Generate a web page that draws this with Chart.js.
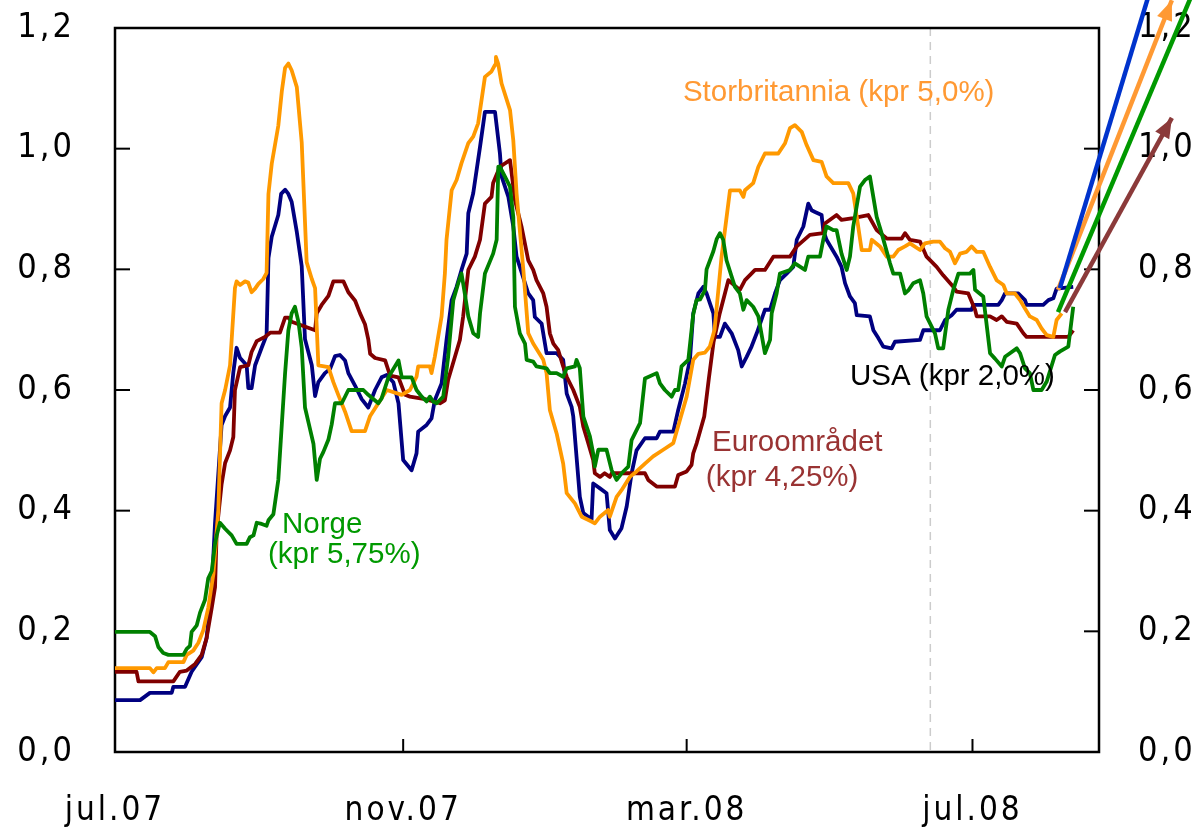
<!DOCTYPE html>
<html lang="no">
<head>
<meta charset="UTF-8">
<title>Pengemarkedspremier</title>
<script src="https://cdn.jsdelivr.net/npm/chart.js"></script>
<style>
  body { margin: 0; background: #ffffff; }
  .wrap { width: 1193px; height: 833px; position: relative; }
</style>
</head>
<body>
<div class="wrap"><canvas id="chart"></canvas></div>
<script>
// x = days since 1 Jul 2007, y = percentage points
const xTickDays = [0, 123, 244, 366];
const xTickLabels = ['jul.07', 'nov.07', 'mar.08', 'jul.08'];
const cutoffDay = 348;

const usa = [
  [0,.086],[10.7,.086],[14.9,.098],[24.2,.098],[24.9,.108],[29.9,.108],[32.7,.133],[37,.157],[39.1,.189],
  [41.3,.273],[42.7,.38],[45.5,.542],[47,.557],[49.1,.571],[50.5,.629],[51.9,.67],[53.4,.653],[56.2,.641],
  [56.9,.603],[58.3,.603],[59.8,.641],[62.6,.67],[64.7,.691],[65.5,.819],[66.9,.854],[69.7,.89],[70.9,.925],
  [72.6,.932],[74,.925],[75.4,.912],[77.6,.862],[79.7,.805],[81.1,.684],[84,.641],[85.4,.59],[86.8,.613],
  [89.6,.628],[91.8,.635],[93.9,.656],[96,.658],[98.2,.649],[99.6,.628],[102.5,.607],[105.3,.585],[108.1,.571],
  [111,.6],[113.8,.621],[116,.625],[118.8,.613],[121,.578],[123,.484],[126.6,.467],[128.7,.495],[129.4,.531],
  [133,.542],[135.1,.553],[136.5,.583],[139.4,.611],[141.5,.683],[143.7,.749],[145.8,.771],[147.9,.799],
  [150.1,.826],[150.8,.893],[152.9,.926],[155.8,1.003],[157.9,1.061],[162.2,1.061],[164.3,.992],[165,.954],
  [167.9,.92],[170,.871],[171.4,.821],[172.8,.804],[176.4,.76],[178.5,.749],[179.2,.721],[182.1,.71],
  [184.2,.661],[188.5,.661],[191.3,.65],[192.8,.594],[194.9,.572],[195.6,.556],[197,.489],[198.4,.423],
  [199.9,.396],[202,.39],[203.4,.385],[204.1,.445],[207,.437],[209.8,.429],[211.2,.368],[213.4,.354],
  [216.2,.371],[218.4,.407],[220.5,.462],[222.6,.5],[226.2,.52],[231.2,.52],[232.6,.531],[238.3,.531],
  [240.4,.567],[243.3,.611],[245.4,.65],[246.8,.727],[249,.76],[251.1,.771],[252.5,.76],[253.9,.744],
  [255.4,.727],[256.1,.688],[258.2,.688],[260.3,.71],[263.2,.694],[266,.666],[267.5,.639],[269.6,.655],
  [271.7,.672],[273.9,.694],[277.4,.733],[279.6,.733],[281.7,.76],[283.8,.782],[286.7,.793],[289.5,.804],
  [291,.849],[293.8,.871],[295.9,.909],[297.3,.898],[298.8,.895],[301.6,.89],[302.3,.865],[303.7,.849],
  [308,.821],[310.1,.804],[311.6,.777],[313.7,.755],[315.8,.744],[316.6,.724],[322.2,.722],[323.7,.699],
  [325.8,.686],[327.9,.672],[331.5,.669],[332.9,.68],[343.6,.683],[345,.699],[352.1,.699],[354.3,.716],
  [357.1,.724],[359.2,.733],[365.6,.733],[366.4,.741],[377,.741],[378.5,.749],[379.9,.76],[385.6,.76],
  [388.4,.749],[389.1,.741],[396.2,.741],[398.4,.749],[400.5,.752],[401.9,.768],[409,.771]
];

const euro = [
  [0,.133],[9.2,.133],[10,.117],[24.9,.117],[27.7,.133],[30.6,.135],[34.2,.146],[37,.161],[39.1,.189],
  [41.3,.239],[42.7,.273],[43.4,.366],[45.5,.444],[47,.479],[49.1,.5],[50.5,.522],[51.2,.6],[53.4,.638],
  [56.9,.641],[58.3,.663],[60.5,.681],[64,.688],[66.2,.695],[70.4,.695],[72.6,.72],[74,.72],[75.4,.713],
  [85.4,.699],[86.1,.727],[88.2,.741],[91.1,.756],[93.2,.78],[97.5,.78],[99.6,.762],[102.5,.748],[104.6,.727],
  [106.7,.709],[108.1,.684],[108.9,.66],[111,.653],[115.3,.649],[117.4,.624],[121,.621],[123.8,.592],
  [125.9,.589],[132.3,.585],[138.7,.578],[140.8,.583],[142.2,.617],[145.1,.655],[147.2,.683],[148.6,.722],
  [150.8,.799],[153.6,.821],[155.8,.849],[157.9,.909],[160.7,.92],[161.4,.943],[164.3,.97],[168.6,.981],
  [170.7,.915],[173.5,.871],[176.4,.815],[178.5,.799],[179.9,.782],[182.8,.76],[184.2,.738],[185.6,.694],
  [187.1,.677],[189.2,.666],[191.3,.639],[192.8,.622],[195.6,.6],[198.4,.572],[199.9,.539],[202,.512],
  [204.1,.484],[204.8,.462],[207,.456],[209,.462],[211.2,.456],[212,.462],[226.2,.462],[227.6,.451],
  [231.2,.44],[239,.44],[240.4,.459],[244,.465],[246.1,.476],[246.8,.495],[248.3,.512],[251.5,.556],
  [253.5,.62],[255.5,.68],[258,.725],[261.8,.782],[266.7,.766],[268.9,.782],[273.2,.799],[277.4,.799],
  [281,.821],[288.1,.821],[291,.838],[296.6,.857],[302.3,.86],[303,.876],[308,.89],[310.1,.882],[315.1,.885],
  [321.5,.89],[325.1,.865],[329.4,.851],[335.8,.851],[337.2,.86],[339.3,.849],[343.6,.846],[346.4,.821],
  [350.7,.804],[353.5,.79],[357.8,.771],[359.2,.763],[364.2,.76],[367.1,.733],[367.8,.722],[373.5,.722],
  [376.3,.716],[378.5,.722],[380.6,.713],[384.9,.71],[387.7,.694],[389.1,.688],[406.9,.688],[409,.699]
];

const uk = [
  [0,.139],[14.9,.139],[16.4,.132],[17.8,.139],[21.3,.139],[22.8,.149],[29.2,.149],[30.6,.161],[33.4,.168],
  [35.6,.181],[37.7,.202],[39.8,.239],[42,.295],[44.1,.401],[45.5,.578],[47,.6],[49.1,.641],[51.2,.769],
  [51.9,.78],[53.4,.774],[55.5,.78],[56.9,.778],[58.3,.762],[59.8,.768],[61.2,.776],[63.3,.784],[64.7,.794],
  [65.5,.925],[66.9,.975],[69.7,1.038],[71.2,1.095],[72.6,1.134],[74,1.141],[75.4,1.13],[77.6,1.102],
  [79.7,1.01],[81.8,.812],[84,.784],[85.4,.769],[86.8,.641],[91.1,.638],[93.2,.613],[95.3,.592],[98.2,.564],
  [101,.532],[106.7,.532],[108.9,.557],[112.4,.578],[116,.6],[122.4,.592],[125.9,.6],[128.7,.622],[129.4,.639],
  [134.4,.639],[135.1,.628],[136.5,.655],[139.4,.722],[140.8,.793],[141.5,.849],[143.7,.931],[145.8,.948],
  [147.9,.976],[150.8,1.009],[152.9,1.02],[155,1.042],[157.9,1.119],[160.7,1.128],[162.2,1.139],[162.6,1.152],
  [163.6,1.14],[165,1.108],[168.6,1.064],[170,1.014],[171.4,.926],[174.3,.799],[176.4,.694],[178.5,.677],
  [182.8,.65],[184.2,.628],[185.6,.567],[188.5,.528],[191.3,.478],[192.8,.429],[196.3,.412],[199.2,.39],
  [203.4,.382],[204.8,.379],[207,.39],[210.5,.401],[211.2,.39],[214.1,.423],[216.2,.434],[219.8,.456],
  [222.6,.465],[226.2,.478],[229.7,.49],[234,.501],[238.3,.512],[241.1,.55],[244,.589],[246.8,.65],[249,.66],
  [251.8,.662],[253.9,.672],[255.9,.7],[258.9,.821],[262.5,.931],[266.7,.931],[268.2,.92],[268.9,.931],
  [272.4,.943],[274.6,.97],[277.4,.992],[283.1,.992],[286,1.009],[288.1,1.034],[290.2,1.039],[293.1,1.028],
  [295.2,1.006],[298.1,.981],[301.6,.978],[303.7,.954],[306.6,.943],[313,.943],[315.1,.926],[316.6,.887],
  [318.7,.832],[322.2,.832],[323,.849],[326.5,.838],[329.4,.821],[332.2,.821],[334.3,.832],[337.2,.838],
  [339.3,.843],[343.6,.832],[345.7,.843],[349.3,.846],[352.1,.846],[354.3,.835],[356.4,.829],[358.5,.81],
  [360.7,.826],[363.5,.829],[365.6,.838],[367.8,.829],[370.6,.829],[373.5,.804],[376.3,.782],[379.2,.774],
  [380.6,.76],[384.1,.76],[386.3,.749],[388.4,.735],[390.5,.722],[393.4,.716],[395.5,.702],[397.7,.691],
  [400.5,.688],[401.9,.716],[404.1,.727]
];

const norge = [
  [0,.199],[14.9,.199],[17.1,.192],[18.5,.174],[20.6,.164],[22.8,.161],[29.2,.161],[30.6,.171],[32,.176],
  [32.7,.199],[34.9,.21],[36.3,.231],[38.4,.252],[39.8,.288],[41.3,.3],[42.7,.345],[43.4,.359],[44.8,.38],
  [47,.37],[49.8,.359],[51.9,.345],[56.2,.345],[57.6,.356],[59.1,.359],[60.5,.38],[62.6,.378],[64.7,.375],
  [65.5,.384],[67.6,.394],[69.7,.451],[71.2,.543],[72.6,.628],[74,.699],[75.4,.727],[76.8,.738],[78.3,.713],
  [79.7,.67],[81.1,.571],[83.2,.536],[84.7,.511],[86.1,.451],[87.5,.486],[88.9,.497],[91.1,.518],[92.5,.543],
  [93.9,.578],[96.8,.578],[99.6,.6],[106,.6],[108.1,.592],[112.4,.578],[113.8,.586],[116.7,.621],[121,.649],
  [122.4,.621],[126.6,.621],[128.7,.6],[130.9,.589],[133,.581],[134.4,.589],[135.8,.581],[137.3,.578],
  [140.1,.589],[142.2,.655],[144.4,.749],[146.5,.777],[147.9,.793],[149.3,.76],[150.8,.722],[152.9,.694],
  [155,.688],[155.8,.727],[157.9,.793],[161.4,.826],[162.9,.849],[163.6,.97],[164.3,.97],[166.4,.954],
  [168.6,.937],[170,.887],[170.7,.738],[172.8,.694],[175,.677],[175.7,.65],[178.5,.647],[179.9,.639],
  [184.2,.636],[185.6,.628],[188.5,.628],[191.3,.622],[192.8,.636],[196.3,.639],[197,.65],[198.4,.636],
  [199.9,.556],[202.7,.523],[204.1,.495],[204.8,.473],[206.3,.501],[209.8,.501],[212,.467],[214.1,.451],
  [216.2,.462],[219.1,.473],[220.5,.517],[224.1,.545],[226.2,.619],[231.2,.628],[232.6,.611],[234.7,.6],
  [237.6,.589],[239,.6],[240.4,.6],[241.8,.639],[244.7,.65],[246.8,.725],[248.2,.749],[249.7,.75],[251.8,.765],
  [252.5,.8],[255.4,.83],[256.8,.85],[258.2,.86],[259.6,.849],[261,.815],[264.6,.771],[266.7,.76],[268.2,.733],
  [269.6,.749],[272.4,.738],[274.6,.722],[277.4,.661],[279.6,.683],[280.3,.727],[282.4,.76],[283.8,.793],
  [288.1,.799],[290.2,.81],[294.5,.799],[295.9,.821],[300.9,.821],[302.3,.849],[303.7,.871],[306.6,.865],
  [308,.865],[310.1,.826],[312.3,.799],[313.7,.821],[315.1,.871],[318,.937],[320.1,.948],[322.2,.954],
  [325.1,.887],[327.2,.86],[330.8,.81],[332.2,.793],[335.1,.793],[337.2,.76],[338.6,.765],[340.7,.777],
  [343.6,.782],[345,.76],[346.4,.722],[350,.694],[351.4,.669],[353.5,.669],[355.7,.733],[357.8,.766],
  [360,.793],[364.9,.793],[366.4,.799],[367.1,.766],[370.6,.755],[373.5,.661],[375.6,.652],[378.5,.639],
  [379.9,.655],[382,.661],[384.9,.669],[386.3,.661],[388.4,.636],[390.5,.628],[392,.6],[395.5,.6],
  [397.7,.614],[401.2,.658],[403.4,.664],[406.9,.672],[407.6,.694],[409,.738]
];

// forward-rate arrows: [start, end] as [day, value]
const arrowUsa   = [[403.3, .769], [444, 1.29]];
const arrowUk    = [[402.5, .766], [451.1, 1.246]];
const arrowNorge = [[402.5, .729], [463, 1.286]];
const arrowEuro  = [[405.5, .729], [451.1, 1.051]];

const toPts = arr => arr.map(p => ({ x: p[0], y: p[1] }));

const narrow = "'Liberation Sans Narrow', 'DejaVu Sans Condensed', sans-serif";
const labelFont = "29.5px 'Liberation Sans', Arial, sans-serif";

const notes = [
  { text: 'Storbritannia (kpr 5,0%)', x: 242.4, y: 1.092, color: '#ff9933' },
  { text: 'USA (kpr 2,0%)', x: 313.7, y: .622, color: '#000000' },
  { text: 'Euroområdet', x: 254.8, y: .512, color: '#993333' },
  { text: '(kpr 4,25%)', x: 252.2, y: .454, color: '#993333' },
  { text: 'Norge', x: 71.3, y: .376, color: '#009900' },
  { text: '(kpr 5,75%)', x: 65.3, y: .327, color: '#009900' }
];

function series(data, color, order) {
  return { data: toPts(data), borderColor: color, borderWidth: 3.8, pointRadius: 0,
           tension: 0, borderJoinStyle: 'round', fill: false, order: order };
}
function arrow(data, color) {
  return { data: toPts(data), borderColor: color, borderWidth: 4.5, pointRadius: 0,
           tension: 0, fill: false, order: 0, clip: false, arrowHead: true };
}

const framePlugin = {
  id: 'frame',
  beforeDraw(chart) {
    chart.ctx.letterSpacing = '3px';
  },
  beforeDatasetsDraw(chart) {
    const { ctx, chartArea: a, scales } = chart;
    ctx.save();
    ctx.letterSpacing = '0px';
    // cutoff line
    const cx = scales.x.getPixelForValue(cutoffDay);
    ctx.strokeStyle = '#cccccc';
    ctx.lineWidth = 1.5;
    ctx.setLineDash([8, 6]);
    ctx.beginPath(); ctx.moveTo(cx, a.top); ctx.lineTo(cx, a.bottom); ctx.stroke();
    ctx.setLineDash([]);
    // frame
    ctx.strokeStyle = '#000';
    ctx.lineWidth = 2.5;
    ctx.strokeRect(a.left, a.top, a.right - a.left, a.bottom - a.top);
    // inward ticks
    ctx.lineWidth = 2;
    scales.y.ticks.forEach(t => {
      const py = scales.y.getPixelForValue(t.value);
      ctx.beginPath(); ctx.moveTo(a.left, py); ctx.lineTo(a.left + 15, py); ctx.stroke();
      ctx.beginPath(); ctx.moveTo(a.right, py); ctx.lineTo(a.right - 15, py); ctx.stroke();
    });
    xTickDays.slice(1).forEach(d => {
      const px = scales.x.getPixelForValue(d);
      ctx.beginPath(); ctx.moveTo(px, a.bottom); ctx.lineTo(px, a.bottom - 13); ctx.stroke();
    });
    ctx.restore();
  },
  afterDatasetsDraw(chart) {
    const { ctx, scales } = chart;
    ctx.save();
    ctx.letterSpacing = '0px';
    // arrow heads
    chart.data.datasets.forEach((ds, i) => {
      if (!ds.arrowHead) return;
      const pts = chart.getDatasetMeta(i).data;
      const p0 = pts[0], p1 = pts[pts.length - 1];
      const ang = Math.atan2(p1.y - p0.y, p1.x - p0.x);
      const len = 20, half = 8;
      ctx.fillStyle = ds.borderColor;
      ctx.beginPath();
      ctx.moveTo(p1.x, p1.y);
      ctx.lineTo(p1.x - len * Math.cos(ang) + half * Math.sin(ang), p1.y - len * Math.sin(ang) - half * Math.cos(ang));
      ctx.lineTo(p1.x - len * Math.cos(ang) - half * Math.sin(ang), p1.y - len * Math.sin(ang) + half * Math.cos(ang));
      ctx.closePath();
      ctx.fill();
    });
    // series labels
    ctx.font = labelFont;
    ctx.textAlign = 'left';
    ctx.textBaseline = 'middle';
    notes.forEach(n => {
      ctx.fillStyle = n.color;
      ctx.fillText(n.text, scales.x.getPixelForValue(n.x), scales.y.getPixelForValue(n.y));
    });
    ctx.restore();
  }
};

const yTickFmt = v => v.toFixed(1).replace('.', ',');
const noPad = s => { s.paddingTop = 0; s.paddingBottom = 0; s.paddingLeft = 0; s.paddingRight = 0; };

new Chart(document.getElementById('chart'), {
  type: 'line',
  data: {
    datasets: [
      arrow(arrowUsa, '#0033cc'),
      arrow(arrowUk, '#ff9933'),
      arrow(arrowNorge, '#009900'),
      arrow(arrowEuro, '#8b3a3a'),
      series(norge, '#008000', 1),
      series(uk, '#ff9900', 2),
      series(euro, '#800000', 3),
      series(usa, '#000080', 4)
    ]
  },
  options: {
    responsive: true,
    maintainAspectRatio: false,
    animation: false,
    layout: { padding: { top: 28, left: 0, right: 0, bottom: 0 } },
    plugins: { legend: { display: false }, tooltip: { enabled: false } },
    scales: {
      x: {
        type: 'linear', min: 0, max: 420,
        grid: { display: false, drawTicks: false }, border: { display: false },
        afterBuildTicks: s => { s.ticks = xTickDays.map(v => ({ value: v })); },
        afterFit: s => { s.height = 81; noPad(s); },
        ticks: {
          autoSkip: false, maxRotation: 0, padding: 40,
          color: '#000', font: { family: narrow, size: 33 },
          callback: (v, i) => xTickLabels[i]
        }
      },
      y: {
        position: 'left', min: 0, max: 1.2,
        grid: { display: false, drawTicks: false }, border: { display: false },
        afterFit: s => { s.width = 115; noPad(s); },
        ticks: { stepSize: 0.2, padding: 40, color: '#000',
                 font: { family: narrow, size: 34 }, callback: yTickFmt }
      },
      y2: {
        position: 'right', min: 0, max: 1.2,
        grid: { display: false, drawTicks: false }, border: { display: false },
        afterFit: s => { s.width = 94; noPad(s); },
        ticks: { stepSize: 0.2, padding: 39, color: '#000',
                 font: { family: narrow, size: 34 }, callback: yTickFmt }
      }
    }
  },
  plugins: [framePlugin]
});
</script>
</body>
</html>
